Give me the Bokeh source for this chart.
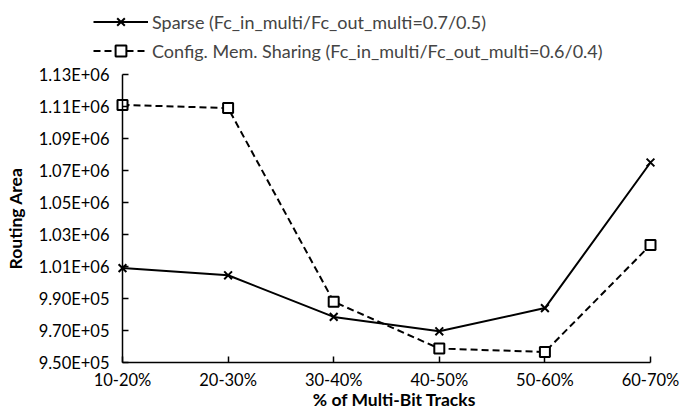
from bokeh.plotting import figure
from bokeh.models import Range1d, FixedTicker, Legend, LegendItem, Label
from bokeh.embed import file_html
from bokeh.resources import INLINE

categories = ["10-20%", "20-30%", "30-40%", "40-50%", "50-60%", "60-70%"]
sparse = [1.009e6, 1.0045e6, 0.9785e6, 0.9695e6, 0.984e6, 1.075e6]
config = [1.111e6, 1.109e6, 0.988e6, 0.9587e6, 0.9566e6, 1.0235e6]
y_ticks = [0.95e6, 0.97e6, 0.99e6, 1.01e6, 1.03e6, 1.05e6, 1.07e6, 1.09e6, 1.11e6, 1.13e6]
y_tick_labels = ["9.50E+05", "9.70E+05", "9.90E+05", "1.01E+06", "1.03E+06",
                 "1.05E+06", "1.07E+06", "1.09E+06", "1.11E+06", "1.13E+06"]
x_title = "% of Multi-Bit Tracks"
y_title = "Routing Area"
sparse_name = "Sparse (Fc_in_multi/Fc_out_multi=0.7/0.5)"
config_name = "Config. Mem. Sharing (Fc_in_multi/Fc_out_multi=0.6/0.4)"

FONT = "Lato"
W, H = 683, 413
xs = list(range(len(categories)))
Y_MIN, Y_MAX = y_ticks[0], y_ticks[-1]

# pixel geometry of the plotting area (frame covers the whole canvas, axes are fixed inside)
AX_LEFT, AX_RIGHT, AX_TOP, AX_BOTTOM = 122, 650, 74, 362
XPPU = (AX_RIGHT - AX_LEFT) / (len(categories) - 1)
YUPP = (Y_MAX - Y_MIN) / (AX_BOTTOM - AX_TOP)


def px_x(px):
    return (px - AX_LEFT) / XPPU


def px_y(py):
    return Y_MIN + (AX_BOTTOM - py) * YUPP


p = figure(width=W, height=H, output_backend="svg", toolbar_location=None,
           x_range=Range1d(px_x(0), px_x(W)), y_range=Range1d(px_y(H), px_y(0)),
           min_border_left=0, min_border_right=0, min_border_top=0, min_border_bottom=0)
p.outline_line_color = None
p.grid.grid_line_color = None

l1 = p.line(xs, sparse, line_color="black", line_width=2)
m1 = p.scatter(xs, sparse, marker="x", size=11, line_color="black", line_width=2)
l2 = p.line(xs, config, line_color="black", line_width=2, line_dash="7 4")
m2 = p.scatter(xs, config, marker="square", size=10, line_color="black", line_width=2,
               fill_color="white")

p.xaxis.ticker = FixedTicker(ticks=xs)
p.xaxis.major_label_overrides = {i: c for i, c in enumerate(categories)}
p.xaxis.bounds = (0, len(categories) - 1)
p.xaxis.fixed_location = Y_MIN
p.yaxis.ticker = FixedTicker(ticks=y_ticks)
p.yaxis.major_label_overrides = {t: l for t, l in zip(y_ticks, y_tick_labels)}
p.yaxis.bounds = (Y_MIN, Y_MAX)
p.yaxis.fixed_location = 0
p.xaxis.minor_tick_line_color = None
p.yaxis.minor_tick_line_color = None
for ax in (p.xaxis, p.yaxis):
    ax.major_tick_in = 6
    ax.major_tick_out = 0
    ax.axis_line_width = 1.5
    ax.major_tick_line_width = 1.5
    ax.major_label_text_font = FONT
    ax.major_label_text_font_size = "16.5px"
    ax.major_label_text_color = "black"
    ax.axis_label_text_font = FONT
    ax.axis_label_text_font_size = "17.5px"
    ax.axis_label_text_font_style = "bold"
    ax.axis_label_text_color = "black"
p.yaxis.axis_label = y_title
p.xaxis.major_label_standoff = 7
p.yaxis.major_label_standoff = 13
p.yaxis.axis_label_standoff = 10

p.add_layout(Label(x=px_x(394), y=px_y(399), text=x_title, text_align="center",
                   text_baseline="middle", text_font=FONT, text_font_size="17.5px",
                   text_font_style="bold", text_color="black"))

legend = Legend(items=[LegendItem(label=sparse_name, renderers=[l1, m1]),
                       LegendItem(label=config_name, renderers=[l2, m2])],
                location=(93, H - 64), orientation="vertical",
                label_text_font=FONT, label_text_font_size="18px",
                glyph_width=55, glyph_height=27, label_height=20, spacing=2,
                padding=0, margin=0, label_standoff=4,
                border_line_color=None, background_fill_alpha=0)
p.add_layout(legend)

open("out.html", "w").write(file_html(p, INLINE))
